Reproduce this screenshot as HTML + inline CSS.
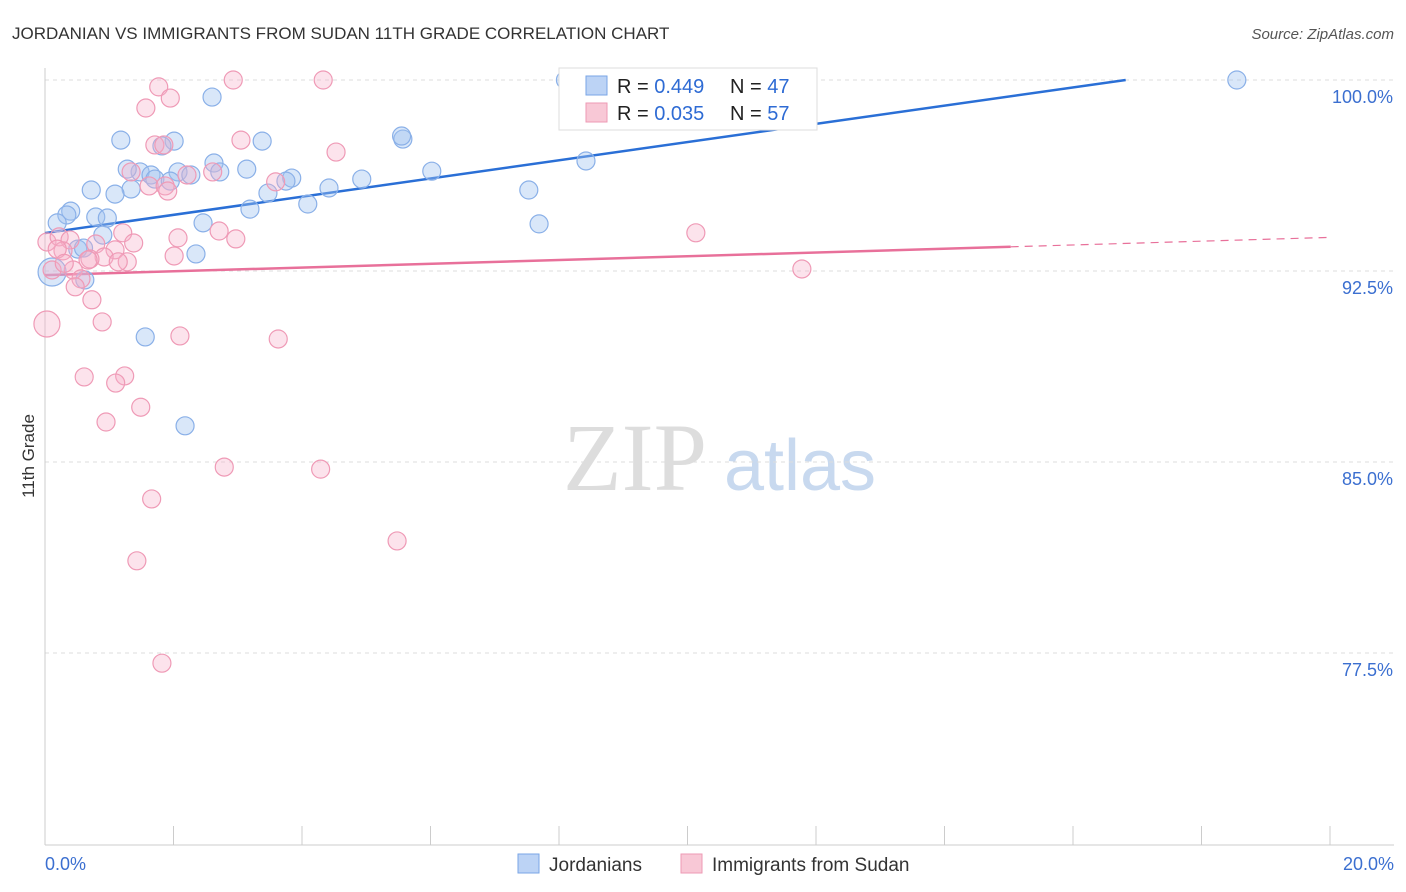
<!DOCTYPE html>
<html><head><meta charset="utf-8">
<style>
body{margin:0;background:#fff;font-family:"Liberation Sans",sans-serif;}
svg{display:block}
</style></head>
<body>
<svg id="chart" width="1406" height="892">
<text x="12" y="39" font-size="17" fill="#333">JORDANIAN VS IMMIGRANTS FROM SUDAN 11TH GRADE CORRELATION CHART</text>
<text x="1394" y="39" font-size="15" fill="#555" text-anchor="end" font-style="italic">Source: ZipAtlas.com</text>
<text x="34" y="456" font-size="17" fill="#333" text-anchor="middle" transform="rotate(-90 34 456)">11th Grade</text>
<g>
<text x="635" y="490" font-size="96" fill="#ddd" font-family="Liberation Serif,serif" text-anchor="middle">ZIP</text>
<text x="800" y="490" font-size="72" fill="#c8d9ef" text-anchor="middle">atlas</text>
</g>
<g id="grid"></g><g id="axes"></g><g id="lines"></g><g id="pts"></g>
<g>
<rect x="559" y="68" width="258" height="62" fill="#fff" stroke="#ddd"/>
<rect x="586" y="76" width="21" height="19" fill="#bcd3f5" stroke="#7aa6e6"/>
<text x="617" y="93" font-size="20" fill="#222">R = <tspan fill="#2e6bd4">0.449</tspan></text>
<text x="730" y="93" font-size="20" fill="#222">N = <tspan fill="#2e6bd4">47</tspan></text>
<rect x="586" y="103" width="21" height="19" fill="#f8c8d6" stroke="#ee9ab4"/>
<text x="617" y="120" font-size="20" fill="#222">R = <tspan fill="#2e6bd4">0.035</tspan></text>
<text x="730" y="120" font-size="20" fill="#222">N = <tspan fill="#2e6bd4">57</tspan></text>
</g>
<g>
<rect x="518" y="854" width="21" height="19" fill="#bcd3f5" stroke="#7aa6e6"/>
<text x="549" y="871" font-size="19" fill="#333">Jordanians</text>
<rect x="681" y="854" width="21" height="19" fill="#f8c8d6" stroke="#ee9ab4"/>
<text x="712" y="871" font-size="19" fill="#333">Immigrants from Sudan</text>
</g>
</svg>
<script>
const yTicks=[100,92.5,85,77.5];
const yTickLabels=["100.0%","92.5%","85.0%","77.5%"];
const xTickLabels=["0.0%","20.0%"];
const blueX=[8.1,18.55,2.6,1.18,2.01,3.38,5.57,5.55,1.82,2.63,2.72,8.42,1.48,1.65,2.07,1.71,4.93,1.28,3.14,6.02,2.27,1.95,3.84,3.75,0.72,1.34,1.09,3.47,4.42,7.53,4.09,3.19,0.4,0.34,0.19,0.79,0.97,2.46,7.69,0.9,0.51,2.35,0.11,0.62,1.56,2.18,0.6];
const blueY=[100,100,99.33,97.64,97.6,97.6,97.68,97.8,97.41,96.74,96.39,96.82,96.39,96.27,96.39,96.11,96.11,96.5,96.5,96.42,96.27,96.03,96.15,96.03,95.68,95.72,95.52,95.56,95.76,95.68,95.13,94.93,94.85,94.7,94.39,94.62,94.58,94.39,94.35,93.91,93.36,93.17,92.46,92.15,89.91,86.42,93.4];
const pinkX=[1.77,2.93,4.33,1.95,1.57,3.05,1.71,1.85,4.53,1.34,2.21,2.61,1.62,1.87,1.91,3.59,0.03,0.22,0.39,1.21,2.07,2.71,2.97,10.13,1.38,0.79,1.09,0.28,0.19,0.92,0.7,1.28,0.67,1.14,2.01,0.44,0.11,0.56,0.47,0.73,11.78,0.03,0.89,2.1,3.63,0.61,1.24,1.1,1.49,0.95,2.79,4.29,1.66,5.48,1.43,1.82,0.3];
const pinkY=[99.73,100,100,99.29,98.9,97.64,97.45,97.45,97.17,96.39,96.27,96.39,95.84,95.84,95.64,96.0,93.64,93.84,93.72,94.0,93.8,94.07,93.76,94.0,93.6,93.56,93.33,93.29,93.36,93.05,92.97,92.86,92.93,92.86,93.09,92.54,92.54,92.19,91.88,91.37,92.58,90.42,90.5,89.95,89.83,88.34,88.38,88.1,87.15,86.57,84.8,84.72,83.55,81.9,81.12,77.1,92.8];
const pinkR=[];pinkY.forEach((v,i)=>pinkR.push(i===41?13:9));
const blueR=[];blueY.forEach((v,i)=>blueR.push(i===42?14:9));
const blueLine=[0,93.99,16.82,100];
const pinkLine=[0,92.34,15.03,93.45,20,93.82];
const X0=45,XS=64.25,Y0=80,YS=191/7.5;
const sx=v=>X0+v*XS, sy=v=>Y0+(100-v)*YS;
const NS="http://www.w3.org/2000/svg";
function mk(tag,attrs,parent){const e=document.createElementNS(NS,tag);for(const k in attrs)e.setAttribute(k,attrs[k]);document.getElementById(parent).appendChild(e);return e;}
yTicks.forEach((t,i)=>{
 const g=mk('line',{x1:45,x2:1394,y1:sy(t),y2:sy(t),stroke:'#ddd','stroke-dasharray':'4 4'},'grid');
 
 
 const l=mk('text',{x:1393,y:sy(t)+23,'font-size':18,fill:'#3b6fd0','text-anchor':'end'},'axes');l.textContent=yTickLabels[i];
 
 
});
let a=mk('line',{x1:45,x2:45,y1:68,y2:845,stroke:'#ccc'},'axes');


a=mk('line',{x1:45,x2:1394,y1:845,y2:845,stroke:'#ccc'},'axes');


for(let i=0;i<=10;i++){const t=mk('line',{x1:sx(i*2),x2:sx(i*2),y1:826,y2:845,stroke:'#ccc'},'axes');
 
 }
[[0,'start',45],[1,'end',1394]].forEach(([i,an,x])=>{const l=mk('text',{x:x,y:870,'font-size':18,fill:'#3b6fd0','text-anchor':an},'axes');l.textContent=xTickLabels[i];
 
 });
blueX.forEach((v,i)=>{const c=mk('circle',{cx:sx(v),cy:sy(blueY[i]),r:blueR[i],fill:'rgba(160,195,240,0.4)',stroke:'#8ab0e8','stroke-width':1.2},'pts');
 
 });
pinkX.forEach((v,i)=>{const c=mk('circle',{cx:sx(v),cy:sy(pinkY[i]),r:pinkR[i],fill:'rgba(245,175,200,0.35)',stroke:'#ef9ab6','stroke-width':1.2},'pts');
 
 });
let ln=mk('line',{x1:sx(blueLine[0]),y1:sy(blueLine[1]),x2:sx(blueLine[2]),y2:sy(blueLine[3]),stroke:'#2a6fd6','stroke-width':2.5},'lines');


ln=mk('line',{x1:sx(pinkLine[0]),y1:sy(pinkLine[1]),x2:sx(pinkLine[2]),y2:sy(pinkLine[3]),stroke:'#e8709a','stroke-width':2.5},'lines');


ln=mk('line',{x1:sx(pinkLine[2]),y1:sy(pinkLine[3]),x2:sx(pinkLine[4]),y2:sy(pinkLine[5]),stroke:'#e8709a','stroke-width':1.2,'stroke-dasharray':'8 6'},'lines');


</script>
</body></html>
